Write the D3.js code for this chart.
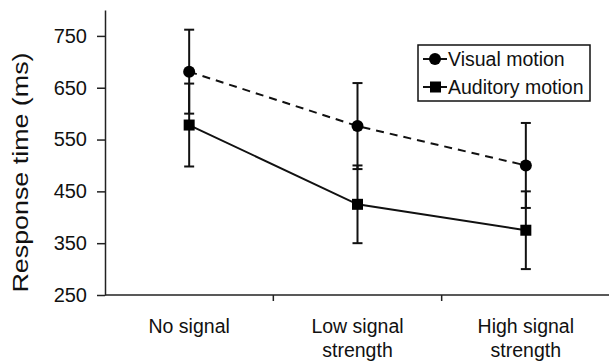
<!DOCTYPE html>
<html lang="en">
<head>
  <meta charset="UTF-8" />
  <title>Response time</title>
  <script src="https://d3js.org/d3.v7.min.js"></script>
  <style>
    body { margin: 0; background: #fff; }
    svg { display: block; font-family: "Liberation Sans", Arial, sans-serif; }
  </style>
</head>
<body>
  <div id="chart"></div>
  <script>
    // Dados
    const categories = [["No signal"], ["Low signal", "strength"], ["High signal", "strength"]];
    const visualMean = [681, 576, 500];
    const visualErr = [81, 83, 82];
    const auditoryMean = [578, 425, 375];
    const auditoryErr = [80, 75, 75];
    const yTicks = [250, 350, 450, 550, 650, 750];

    const width = 609, height = 362;
    const plotLeft = 105, plotRight = 610, plotTop = 10, plotBottom = 295;

    const svg = d3.select("#chart").append("svg")
      .attr("width", width).attr("height", height);

    const x = d3.scaleBand().domain(d3.range(categories.length)).range([plotLeft, plotRight]);
    const y = d3.scaleLinear().domain([250, 800]).range([plotBottom, plotTop]);

    // eixo Y
    const yAxis = svg.append("g")
      .attr("transform", `translate(${plotLeft},0)`)
      .call(d3.axisLeft(y).tickValues(yTicks).tickSize(8).tickSizeOuter(0).tickPadding(10));
    yAxis.select(".domain").attr("stroke", "#222").attr("stroke-width", 1.5);
    yAxis.selectAll(".tick line").attr("stroke", "#222").attr("stroke-width", 1.5);
    yAxis.selectAll(".tick text").attr("font-size", 20).attr("fill", "#111");

    // eixo X
    svg.append("line")
      .attr("x1", plotLeft).attr("x2", width).attr("y1", plotBottom).attr("y2", plotBottom)
      .attr("stroke", "#222").attr("stroke-width", 1.5);
    svg.selectAll(".xtick").data(d3.range(1, categories.length)).join("line")
      .attr("x1", d => x(d)).attr("x2", d => x(d))
      .attr("y1", plotBottom).attr("y2", plotBottom + 6)
      .attr("stroke", "#222").attr("stroke-width", 1.5);

    const cx = i => x(i) + x.bandwidth() / 2;

    svg.selectAll(".xlabel").data(categories).join("text")
      .attr("text-anchor", "middle").attr("font-size", 19.5).attr("fill", "#111")
      .each(function (lines, i) {
        d3.select(this).selectAll("tspan").data(lines).join("tspan")
          .attr("x", cx(i)).attr("y", (d, j) => 333 + j * 23.5).text(d => d);
      });

    svg.append("text")
      .attr("transform", `translate(27.5,172.5) rotate(-90)`)
      .attr("text-anchor", "middle").attr("font-size", 21.5).attr("fill", "#111")
      .attr("textLength", 240).attr("lengthAdjust", "spacingAndGlyphs")
      .text("Response time (ms)");

    // barras de erro
    function errorBars(means, errs) {
      const g = svg.append("g").attr("stroke", "#111").attr("stroke-width", 2);
      means.forEach((m, i) => {
        g.append("line").attr("x1", cx(i)).attr("x2", cx(i))
          .attr("y1", y(m + errs[i])).attr("y2", y(m - errs[i]));
        [m + errs[i], m - errs[i]].forEach(v => {
          g.append("line").attr("x1", cx(i) - 5).attr("x2", cx(i) + 5)
            .attr("y1", y(v)).attr("y2", y(v));
        });
      });
    }
    errorBars(visualMean, visualErr);
    errorBars(auditoryMean, auditoryErr);

    const line = d3.line().x((d, i) => cx(i)).y(d => y(d));

    svg.append("path").datum(visualMean)
      .attr("fill", "none").attr("stroke", "#111").attr("stroke-width", 2)
      .attr("stroke-dasharray", "8,6").attr("d", line);
    svg.append("path").datum(auditoryMean)
      .attr("fill", "none").attr("stroke", "#111").attr("stroke-width", 2)
      .attr("d", line);

    svg.selectAll(".vis").data(visualMean).join("circle")
      .attr("cx", (d, i) => cx(i)).attr("cy", d => y(d)).attr("r", 6).attr("fill", "#000");
    svg.selectAll(".aud").data(auditoryMean).join("rect")
      .attr("x", (d, i) => cx(i) - 5.5).attr("y", d => y(d) - 5.5)
      .attr("width", 11).attr("height", 11).attr("fill", "#000");

    // legenda
    const lg = svg.append("g");
    lg.append("rect").attr("x", 418).attr("y", 45).attr("width", 172).attr("height", 56)
      .attr("fill", "#fff").attr("stroke", "#111").attr("stroke-width", 1.5);
    const items = [["Visual motion", "circle"], ["Auditory motion", "square"]];
    items.forEach(([name, shape], i) => {
      const yy = 59 + i * 28;
      lg.append("line").attr("x1", 423).attr("x2", 447).attr("y1", yy).attr("y2", yy)
        .attr("stroke", "#111").attr("stroke-width", 2);
      if (shape === "circle") {
        lg.append("circle").attr("cx", 435).attr("cy", yy).attr("r", 6).attr("fill", "#000");
      } else {
        lg.append("rect").attr("x", 430).attr("y", yy - 5.5).attr("width", 11).attr("height", 11).attr("fill", "#000");
      }
      lg.append("text").attr("x", 448).attr("y", yy + 7).attr("font-size", 19.5).attr("fill", "#111").text(name);
    });
  </script>
</body>
</html>
